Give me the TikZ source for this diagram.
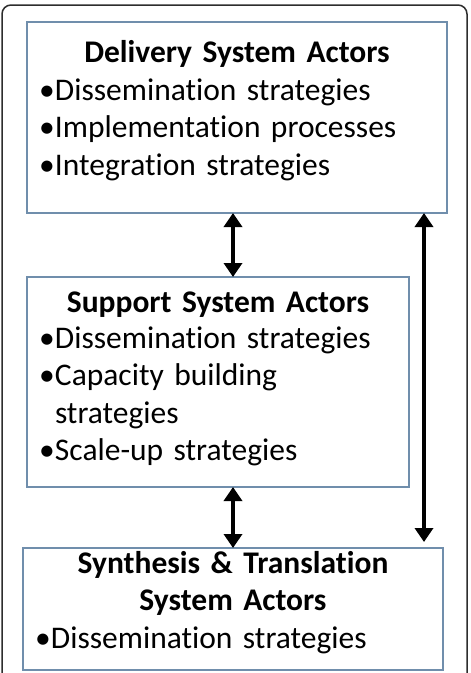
\documentclass[tikz,border=0pt]{standalone}
\usepackage{fontspec}
\setmainfont{Carlito}[Ligatures=NoCommon]
\usetikzlibrary{arrows.meta}
\usepackage{xcolor}

\definecolor{boxblue}{RGB}{112,142,172}
\definecolor{framegray}{RGB}{45,45,45}

\newcommand{\itm}[1]{\makebox[16pt][l]{\textbullet}#1}

\begin{document}
\begin{tikzpicture}[
    x=1pt, y=-1pt,
    every node/.style = {inner sep=0pt, outer sep=0pt},
    sysbox/.style   = {draw=boxblue, line width=1.8pt, rectangle},
    titletxt/.style = {font=\fontsize{31.5}{37.5}\selectfont\bfseries,
                       text width=420pt, align=center, anchor=base},
    listtxt/.style  = {font=\fontsize{31.5}{37.5}\selectfont,
                       text width=400pt, align=left, anchor=base west},
    dblarr/.style   = {{Triangle[length=14pt,width=18pt]}-{Triangle[length=14pt,width=18pt]},
                       line width=4pt},
]

\useasboundingbox (0,0) rectangle (471,673);
\clip (0,0) rectangle (471,673);

%% outer frame
\draw[framegray, line width=1.5pt, rounded corners=9pt] (2,5) rectangle (467,720);

%% boxes
\node[sysbox, minimum width=420pt, minimum height=191pt] (deliv) at (237,117.5) {};
\node[sysbox, minimum width=382pt, minimum height=210pt] (supp)  at (218,382)   {};
\node[sysbox, minimum width=420pt, minimum height=122pt] (synth) at (233,609)   {};

%% texts
\node[titletxt] (delivt) at (237,62) {Delivery System Actors};
\node[listtxt]  (delivl) at (39,100)
    {\itm{Dissemination strategies}\\ \itm{Implementation processes}\\ \itm{Integration strategies}};

\node[titletxt] (suppt) at (218,312) {Support System Actors};
\node[listtxt]  (suppl) at (39,348)
    {\itm{Dissemination strategies}\\ \itm{Capacity building}\\ \hspace*{16pt}strategies\\ \itm{Scale-up strategies}};

\node[titletxt] (syntht) at (233,573) {Synthesis \& Translation\\ System Actors};
\node[listtxt]  (synthl) at (35,648) {\itm{Dissemination strategies}};

%% connectors
\coordinate (mid) at (233,0);
\coordinate (rgt) at (424,0);
\draw[dblarr] (mid |- deliv.south) -- (mid |- supp.north);
\draw[dblarr] (mid |- supp.south) -- (mid |- synth.north);
\draw[dblarr] (rgt |- deliv.south) -- ([yshift=6pt]rgt |- synth.north);

\end{tikzpicture}
\end{document}
